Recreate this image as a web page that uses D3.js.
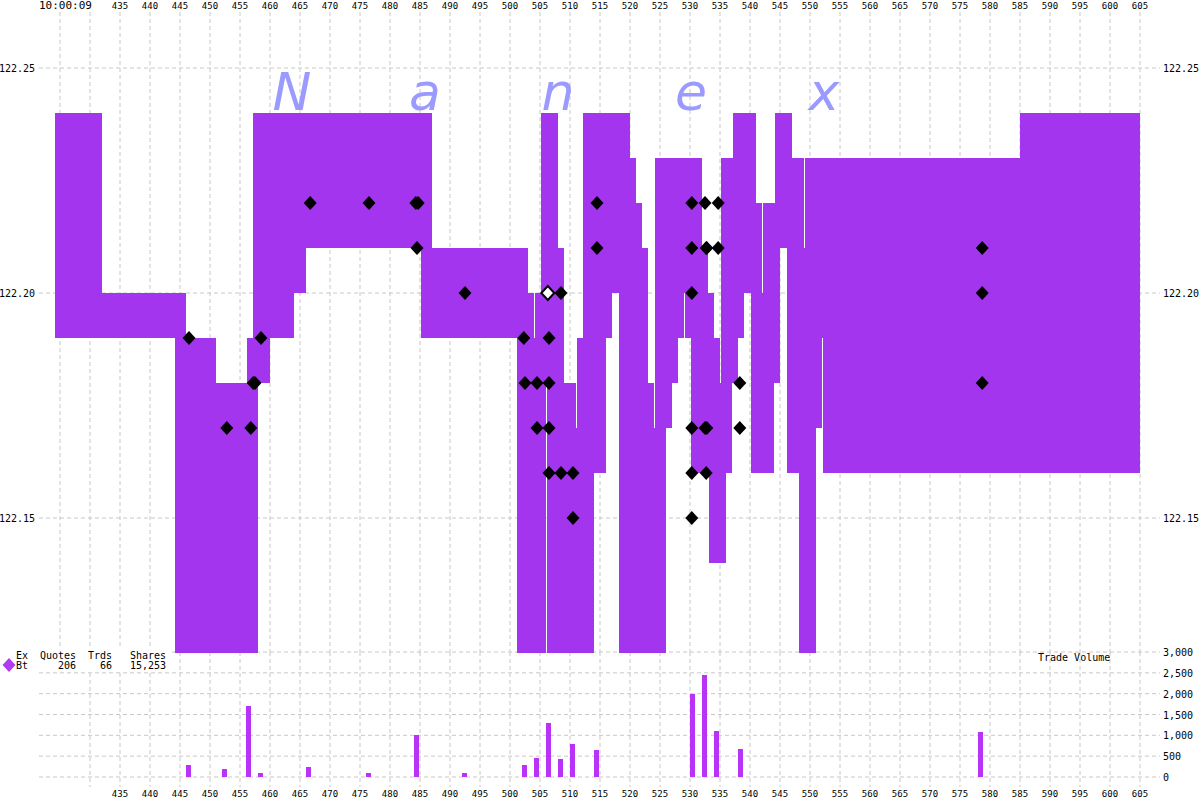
<!DOCTYPE html>
<html><head><meta charset="utf-8">
<script src="https://cdn.jsdelivr.net/npm/d3@7"></script>
<style>
body{margin:0;background:#fff}
svg{display:block}
text{font-family:"DejaVu Sans Mono",monospace;fill:#000}
</style>
</head><body>
<svg id="c" width="1200" height="800"></svg>
<script>
// ---------- DATA ----------
const startLabel = "10:00:09";
const gridTimes = d3.range(425, 606, 5);          // vertical grid
const labelTimes = d3.range(435, 606, 5);         // labelled ticks
const priceTicks = [122.15, 122.20, 122.25];
const volumeTicks = [0, 500, 1000, 1500, 2000, 2500, 3000];

// Bt quotes: [start, end, bid, ask]
const quotes = [
  [424.2, 432, 122.19, 122.24],
  [432, 446, 122.19, 122.20],
  [444.2, 451, 122.12, 122.19],
  [451, 458, 122.12, 122.18],
  [456.2, 460, 122.18, 122.19],
  [457.2, 464, 122.19, 122.24],
  [464, 466, 122.20, 122.24],
  [466, 487, 122.21, 122.24],
  [485.2, 503, 122.19, 122.21],
  [503, 504, 122.19, 122.20],
  [501.2, 506, 122.12, 122.19],
  [504.2, 509, 122.19, 122.20],
  [505.2, 509, 122.18, 122.21],
  [505.2, 508, 122.21, 122.24],
  [506.2, 511, 122.17, 122.18],
  [506.2, 514, 122.12, 122.17],
  [511.2, 516, 122.16, 122.19],
  [512.2, 520, 122.23, 122.24],
  [512.2, 521, 122.22, 122.23],
  [512.2, 522, 122.21, 122.22],
  [512.2, 523, 122.20, 122.21],
  [512.2, 517, 122.19, 122.20],
  [518.2, 523, 122.18, 122.20],
  [518.2, 524, 122.17, 122.18],
  [518.2, 526, 122.12, 122.17],
  [524.2, 532, 122.21, 122.23],
  [524.2, 533, 122.20, 122.21],
  [524.2, 529, 122.19, 122.20],
  [529.2, 534, 122.19, 122.20],
  [524.2, 528, 122.18, 122.19],
  [530.2, 535, 122.18, 122.19],
  [524.2, 527, 122.17, 122.18],
  [530.2, 537, 122.16, 122.18],
  [533.2, 536, 122.14, 122.16],
  [537.2, 541, 122.23, 122.24],
  [535.2, 541, 122.22, 122.23],
  [535.2, 542, 122.20, 122.22],
  [535.2, 539, 122.19, 122.20],
  [535.2, 538, 122.18, 122.19],
  [542.2, 549, 122.21, 122.22],
  [544.2, 549, 122.22, 122.23],
  [544.2, 547, 122.23, 122.24],
  [542.2, 545, 122.20, 122.21],
  [540.2, 545, 122.18, 122.20],
  [540.2, 544, 122.16, 122.18],
  [549.2, 605, 122.21, 122.23],
  [546.2, 605, 122.19, 122.21],
  [546.2, 552, 122.17, 122.19],
  [546.2, 551, 122.16, 122.17],
  [548.2, 551, 122.12, 122.16],
  [552.2, 605, 122.16, 122.19],
  [585, 605, 122.23, 122.24]
];

// trades
const tradeTimes  = [446.5, 452.8, 456.8, 457.2, 457.5, 458.5, 466.7, 476.5, 484.3, 484.7, 484.5, 492.5,
  502.3, 502.5, 504.5, 504.5, 506.5, 506.5, 506.5, 506.5, 508.5, 508.5, 510.5, 510.5,
  514.5, 514.5, 530.3, 530.3, 530.3, 530.3, 530.3, 530.3, 532.5, 532.8, 532.7, 532.5, 532.8, 532.7,
  534.7, 534.7, 538.3, 538.3, 578.7, 578.7, 578.7];
const tradePrices = [122.19, 122.17, 122.17, 122.18, 122.18, 122.19, 122.22, 122.22, 122.22, 122.22, 122.21, 122.20,
  122.19, 122.18, 122.18, 122.17, 122.19, 122.18, 122.17, 122.16, 122.20, 122.16, 122.16, 122.15,
  122.22, 122.21, 122.22, 122.21, 122.20, 122.17, 122.16, 122.15, 122.22, 122.21, 122.21, 122.17, 122.17, 122.16,
  122.22, 122.21, 122.18, 122.17, 122.21, 122.20, 122.18];
const openTrade = {t: 506.3, p: 122.20};   // hollow marker

// trade volume per 2-second bucket
const volTimes  = [446, 452, 456, 458, 466, 476, 484, 492, 502, 504, 506, 508, 510, 514, 530, 532, 534, 538, 578];
const volShares = [300, 200, 1700, 100, 250, 100, 1000, 100, 300, 450, 1300, 430, 800, 650, 2000, 2450, 1100, 670, 1080];

const legendHead = ["Ex", "Quotes", "Trds", "Shares"];
const legendRow  = ["Bt", "206", "66", "15,253"];
const watermark  = ["N", "a", "n", "e", "x"];

// ---------- SCALES ----------
const svg = d3.select("#c");
const x = d3.scaleLinear().domain([425, 605]).range([60, 1140]);
const y = d3.scaleLinear().domain([122.12, 122.25]).range([653, 68]);
const yv = d3.scaleLinear().domain([0, 3000]).range([777, 652]);
const gridColor = "#c8c8c8";
const dash = "4,3";
const bandColor = "#a335ee";
const barColor = "#b833f5";

// ---------- GRID ----------
const g = svg.append("g");
g.selectAll("line.vg").data(gridTimes).join("line")
  .attr("x1", d => x(d)).attr("x2", d => x(d))
  .attr("y1", 12).attr("y2", 652)
  .attr("stroke", gridColor).attr("stroke-dasharray", dash);
g.selectAll("line.vv").data(gridTimes.filter(d => d >= 430)).join("line")
  .attr("x1", d => x(d)).attr("x2", d => x(d))
  .attr("y1", 652).attr("y2", 787)
  .attr("stroke", gridColor).attr("stroke-dasharray", dash);
g.selectAll("line.hg").data(priceTicks).join("line")
  .attr("x1", 39).attr("x2", 1160)
  .attr("y1", d => y(d)).attr("y2", d => y(d))
  .attr("stroke", gridColor).attr("stroke-dasharray", dash);
g.selectAll("line.hv").data(volumeTicks).join("line")
  .attr("x1", 39).attr("x2", 1160)
  .attr("y1", d => yv(d)).attr("y2", d => yv(d))
  .attr("stroke", gridColor).attr("stroke-dasharray", dash);

// ---------- WATERMARK ----------
svg.append("g").selectAll("text").data(watermark).join("text")
  .attr("x", (d, i) => 292 + i * 133)
  .attr("y", 110)
  .attr("text-anchor", "middle")
  .style("font-family", "'DejaVu Sans', sans-serif")
  .style("font-style", "italic")
  .style("font-size", "52px")
  .style("fill", "#9a9aff")
  .text(d => d);

// ---------- QUOTE BAND ----------
svg.append("g").selectAll("rect").data(quotes).join("rect")
  .attr("x", d => x(d[0]))
  .attr("width", d => x(d[1]) - x(d[0]))
  .attr("y", d => y(d[3]))
  .attr("height", d => y(d[2]) - y(d[3]))
  .attr("fill", bandColor)
  .attr("shape-rendering", "crispEdges");

// ---------- TRADES ----------
const diamond = (cx, cy) => `M${cx},${cy - 7}L${cx + 6.5},${cy}L${cx},${cy + 7}L${cx - 6.5},${cy}Z`;
svg.append("g").selectAll("path").data(tradeTimes.map((t, i) => [t, tradePrices[i]])).join("path")
  .attr("d", d => diamond(x(d[0]), y(d[1])))
  .attr("fill", "#000");
svg.append("path")
  .attr("d", diamond(x(openTrade.t), y(openTrade.p)))
  .attr("fill", "#fff").attr("stroke", "#000").attr("stroke-width", 2);

// ---------- VOLUME ----------
svg.append("g").selectAll("rect").data(volTimes.map((t, i) => [t, volShares[i]])).join("rect")
  .attr("x", d => x(d[0]))
  .attr("width", x(425.8) - x(425))
  .attr("y", d => yv(d[1]))
  .attr("height", d => yv(0) - yv(d[1]))
  .attr("fill", barColor)
  .attr("shape-rendering", "crispEdges");

// ---------- AXES TEXT ----------
const axisFont = "9px";
svg.append("text").attr("x", 39).attr("y", 9).style("font-size", "11px").text(startLabel);
svg.append("g").selectAll("text").data(labelTimes).join("text")
  .attr("x", d => x(d)).attr("y", 9)
  .attr("text-anchor", "middle").style("font-size", axisFont).text(d => d);
svg.append("g").selectAll("text").data(labelTimes).join("text")
  .attr("x", d => x(d)).attr("y", 797)
  .attr("text-anchor", "middle").style("font-size", axisFont).text(d => d);

const fmtP = d3.format(".2f");
svg.append("g").selectAll("text").data(priceTicks).join("text")
  .attr("x", 35).attr("y", d => y(d) + 4)
  .attr("text-anchor", "end").style("font-size", "10px").text(d => fmtP(d));
svg.append("g").selectAll("text").data(priceTicks).join("text")
  .attr("x", 1163).attr("y", d => y(d) + 4)
  .style("font-size", "10px").text(d => fmtP(d));

const fmtV = d3.format(",");
svg.append("g").selectAll("text").data(volumeTicks).join("text")
  .attr("x", 1163).attr("y", d => yv(d) + 4)
  .style("font-size", "10px").text(d => fmtV(d));
svg.append("text").attr("x", 1038).attr("y", 661).style("font-size", "10px").text("Trade Volume");

// ---------- LEGEND ----------
svg.append("rect").attr("x", 0).attr("y", 646).attr("width", 172).attr("height", 26).attr("fill", "#fff");
svg.append("path").attr("d", diamond(9, 665)).attr("fill", "#b23cf2");
const colRight = [28, 76, 112, 166];
svg.append("g").selectAll("text").data(legendHead).join("text")
  .attr("x", (d, i) => colRight[i]).attr("y", 659)
  .attr("text-anchor", "end").style("font-size", "10px").text(d => d);
svg.append("g").selectAll("text").data(legendRow).join("text")
  .attr("x", (d, i) => colRight[i]).attr("y", 669)
  .attr("text-anchor", "end").style("font-size", "10px").text(d => d);
</script>
</body></html>
